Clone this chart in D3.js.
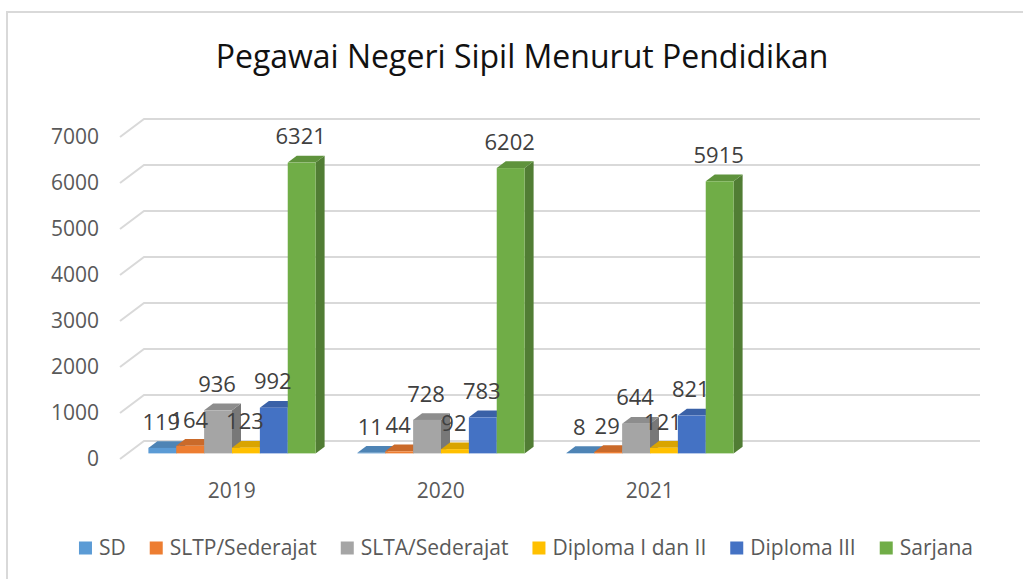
<!DOCTYPE html>
<html>
<head>
<meta charset="utf-8">
<script src="https://cdn.jsdelivr.net/npm/d3@7"></script>
<style>
  body { margin: 0; background: #fff; }
  svg { display: block; font-family: "Open Sans", sans-serif; }
</style>
</head>
<body>
<svg width="1023" height="579"></svg>
<script>
// Data
let categories = ["2019", "2020", "2021", ""]; // source chart keeps an empty 4th slot
let seriesNames = ["SD", "SLTP/Sederajat", "SLTA/Sederajat", "Diploma I dan II", "Diploma III", "Sarjana"];
let seriesColors = ["#5B9BD5", "#ED7D31", "#A5A5A5", "#FFC000", "#4472C4", "#70AD47"];
let sd = [119, 11, 8];
let sltp = [164, 44, 29];
let slta = [936, 728, 644];
let diploma12 = [123, 92, 121];
let diploma3 = [992, 783, 821];
let sarjana = [6321, 6202, 5915];
let yTicks = [0, 1000, 2000, 3000, 4000, 5000, 6000, 7000];

let seriesValues = [sd, sltp, slta, diploma12, diploma3, sarjana];

let svg = d3.select("svg");

// chart border
svg.append("rect")
    .attr("x", 7).attr("y", 12)
    .attr("width", 1040).attr("height", 600)
    .attr("fill", "none").attr("stroke", "#d9d9d9").attr("stroke-width", 2);

// Title
svg.append("text")
    .attr("x", 522).attr("y", 57)
    .attr("dy", "0.35em")
    .attr("text-anchor", "middle")
    .attr("font-size", 32)
    .attr("fill", "#111")
    .text("Pegawai Negeri Sipil Menurut Pendidikan");

// 3D-ish projection: depth z in [0,1] shifts right and up
let depthX = 24, depthY = -18;
function proj(x, y, z) {
    return [x + depthX * z, y + depthY * z];
}

let x0 = d3.scaleBand().domain(categories).range([120, 956]).padding(0);
let x1 = d3.scaleBand().domain(seriesNames).range([0, x0.bandwidth()]).paddingInner(0).paddingOuter(0.75);
let y = d3.scaleLinear().domain([0, 7000]).range([459, 137]);

// Gridlines: short side-wall diagonal then along back wall
let grid = svg.append("g").attr("class", "grid");
yTicks.forEach(t => {
    let a = proj(120, y(t), 0), b = proj(120, y(t), 1), c = proj(956, y(t), 1);
    grid.append("path")
        .attr("d", d3.line()([a, b, c]))
        .attr("fill", "none")
        .attr("stroke", "#d9d9d9")
        .attr("stroke-width", 2);
});

// Y axis labels
svg.append("g").selectAll("text")
    .data(yTicks)
    .join("text")
    .attr("x", 99)
    .attr("y", d => y(d))
    .attr("dy", "0.35em")
    .attr("text-anchor", "end")
    .attr("font-size", 21)
    .attr("fill", "#595959")
    .text(d => d);

// Bars
let z0 = 0.3125, z1 = 0.6875;
let bars = svg.append("g").attr("class", "bars");
let labels = [];
categories.forEach((cat, ci) => {
    seriesNames.forEach((name, si) => {
        let v = seriesValues[si][ci];
        if (v === undefined) return;
        let xl = x0(cat) + x1(name);
        let xr = xl + x1.bandwidth();
        let yt = y(v), yb = y(0);
        let col = d3.color(seriesColors[si]);
        let g = bars.append("g");
        // side face
        g.append("path")
            .attr("d", d3.line()([proj(xr, yt, z0), proj(xr, yt, z1), proj(xr, yb, z1), proj(xr, yb, z0)]) + "Z")
            .attr("fill", col.darker(0.9));
        // top face
        g.append("path")
            .attr("d", d3.line()([proj(xl, yt, z0), proj(xr, yt, z0), proj(xr, yt, z1), proj(xl, yt, z1)]) + "Z")
            .attr("fill", col.darker(0.45));
        // front face
        let f = proj(xl, yt, z0);
        g.append("rect")
            .attr("x", f[0]).attr("y", f[1])
            .attr("width", xr - xl)
            .attr("height", Math.max(0, yb - yt))
            .attr("fill", col);
        labels.push({ x: f[0] + (xr - xl) / 2 - 1, y: f[1] - 26, v: v });
    });
});

// Value labels
svg.append("g").selectAll("text")
    .data(labels)
    .join("text")
    .attr("x", d => d.x)
    .attr("y", d => d.y)
    .attr("dy", "0.35em")
    .attr("text-anchor", "middle")
    .attr("font-size", 22)
    .attr("fill", "#404040")
    .text(d => d.v);

// Category labels
svg.append("g").selectAll("text")
    .data(categories.filter(c => c !== ""))
    .join("text")
    .attr("x", d => proj(x0(d) + x0.bandwidth() / 2, 0, 0.3)[0])
    .attr("y", y(0) + 32)
    .attr("dy", "0.35em")
    .attr("text-anchor", "middle")
    .attr("font-size", 21)
    .attr("fill", "#595959")
    .text(d => d);

// Legend, laid out from measured text widths and centred
let legend = svg.append("g").attr("class", "legend");
let items = seriesNames.map((name, i) => {
    let g = legend.append("g");
    g.append("rect").attr("width", 13).attr("height", 13).attr("y", -6.5).attr("fill", seriesColors[i]);
    let t = g.append("text")
        .attr("x", 20).attr("dy", "0.35em")
        .attr("font-size", 21)
        .attr("fill", "#595959")
        .text(name);
    return { g: g, w: 20 + t.node().getComputedTextLength() };
});
let legendGap = 24;
let totalW = d3.sum(items, d => d.w) + legendGap * (items.length - 1);
let lx = 526 - totalW / 2;
items.forEach(it => {
    it.g.attr("transform", `translate(${lx},548)`);
    lx += it.w + legendGap;
});
</script>
</body>
</html>
